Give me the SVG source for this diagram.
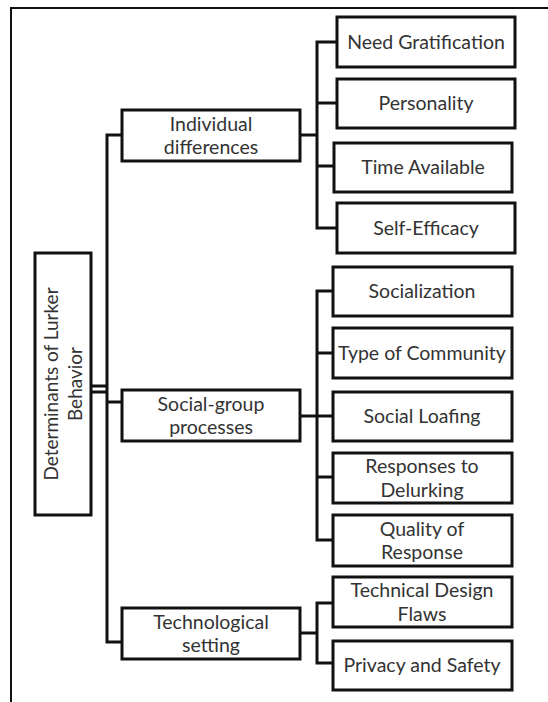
<svg xmlns="http://www.w3.org/2000/svg" width="548" height="702" viewBox="0 0 548 702">
<style>
.box{fill:#fff;stroke:#111;stroke-width:3}
.ln{fill:none;stroke:#111;stroke-width:3}
text{font-family:Lato,"Open Sans",sans-serif;font-size:19.5px;fill:#333;text-anchor:middle}
</style>
<rect width="548" height="702" fill="#fff"/>
<path d="M11,702 V8 H548" fill="none" stroke="#111" stroke-width="2"/>
<g id="connectors" class="ln">
<path d="M91,386 H107 M91,392 H107"/>
<path d="M122,135 H107 V642 H122"/>
<path d="M107,402 H122"/>
<path d="M300,135 H317 M337,42 H317 V228 H337 M317,103 H337 M317,166 H334"/>
<path d="M300,416 H317 M333,291 H317 V540 H333 M317,353 H333 M317,416 H333 M317,477 H333"/>
<path d="M300,633 H317 M333,603 H317 V663 H333"/>
</g>
<g id="root"><rect class="box" x="35" y="253" width="56" height="262"/>
<text transform="translate(63,384) rotate(-90)" style="font-size:19px"><tspan x="0" y="-5">Determinants of Lurker</tspan><tspan x="0" y="18.5">Behavior</tspan></text></g>
<g id="individual"><rect class="box" x="122" y="110" width="178" height="51"/><text x="211" y="130.5">Individual</text><text x="211" y="154">differences</text></g>
<g id="social"><rect class="box" x="122" y="390" width="178" height="51"/><text x="211" y="410.5">Social-group</text><text x="211" y="434">processes</text></g>
<g id="tech"><rect class="box" x="122" y="608" width="178" height="51"/><text x="211" y="628.5">Technological</text><text x="211" y="652">setting</text></g>
<g id="need"><rect class="box" x="337" y="17" width="178" height="50"/><text x="426" y="49">Need Gratification</text></g>
<g id="personality"><rect class="box" x="337" y="79" width="178" height="49"/><text x="426" y="110">Personality</text></g>
<g id="time"><rect class="box" x="334" y="143" width="178" height="49"/><text x="423" y="174">Time Available</text></g>
<g id="selfeff"><rect class="box" x="337" y="203" width="178" height="50"/><text x="426" y="235">Self-Efficacy</text></g>
<g id="socialization"><rect class="box" x="333" y="267" width="179" height="49"/><text x="422" y="298">Socialization</text></g>
<g id="community"><rect class="box" x="333" y="328" width="179" height="50"/><text x="422" y="360">Type of Community</text></g>
<g id="loafing"><rect class="box" x="333" y="392" width="179" height="49"/><text x="422" y="423">Social Loafing</text></g>
<g id="delurking"><rect class="box" x="333" y="453" width="179" height="50"/><text x="422" y="473">Responses to</text><text x="422" y="496.5">Delurking</text></g>
<g id="quality"><rect class="box" x="333" y="515" width="179" height="51"/><text x="422" y="535.5">Quality of</text><text x="422" y="559">Response</text></g>
<g id="flaws"><rect class="box" x="333" y="577" width="179" height="50"/><text x="422" y="597">Technical Design</text><text x="422" y="620.5">Flaws</text></g>
<g id="privacy"><rect class="box" x="333" y="641" width="179" height="49"/><text x="422" y="672">Privacy and Safety</text></g>
</svg>
